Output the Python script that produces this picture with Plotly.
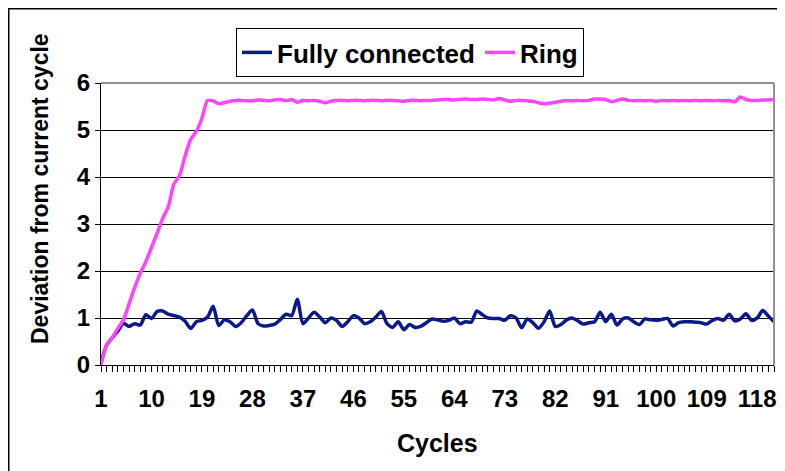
import plotly.graph_objects as go

cycles = list(range(1, 122))

fully_connected = [
    0.05, 0.42, 0.58, 0.72, 0.89, 0.82, 0.88, 0.85, 1.07, 0.99,
    1.14, 1.15, 1.08, 1.05, 1.02, 0.93, 0.78, 0.92, 0.95, 1.02,
    1.25, 0.84, 0.96, 0.92, 0.82, 0.90, 1.05, 1.17, 0.88, 0.83,
    0.84, 0.87, 0.97, 1.08, 1.05, 1.40, 0.88, 1.00, 1.12, 1.02,
    0.90, 1.00, 0.95, 0.82, 0.92, 1.05, 1.00, 0.88, 0.92, 1.02,
    1.14, 0.88, 0.80, 0.92, 0.75, 0.86, 0.80, 0.82, 0.90, 0.98,
    0.96, 0.93, 0.95, 1.00, 0.88, 0.92, 0.91, 1.15, 1.07, 1.00,
    0.99, 0.99, 0.95, 1.05, 1.00, 0.79, 0.98, 0.90, 0.78, 0.92,
    1.15, 0.82, 0.86, 0.96, 1.00, 0.94, 0.87, 0.90, 0.92, 1.12,
    0.92, 1.08, 0.85, 0.98, 1.00, 0.92, 0.86, 0.98, 0.96, 0.95,
    0.97, 0.99, 0.83, 0.90, 0.92, 0.92, 0.91, 0.90, 0.87, 0.95,
    0.99, 0.95, 1.08, 0.94, 0.98, 1.09, 0.95, 1.00, 1.16, 1.04,
    0.92,
]

ring = [
    0.00, 0.42, 0.58, 0.78, 0.96, 1.30, 1.65, 1.95, 2.20, 2.50,
    2.80, 3.12, 3.37, 3.85, 4.03, 4.45, 4.80, 4.97, 5.25, 5.63,
    5.62, 5.56, 5.58, 5.61, 5.63, 5.63, 5.62, 5.62, 5.64, 5.63,
    5.62, 5.64, 5.65, 5.62, 5.65, 5.59, 5.63, 5.62, 5.63, 5.61,
    5.58, 5.61, 5.63, 5.63, 5.62, 5.63, 5.63, 5.62, 5.63, 5.63,
    5.62, 5.63, 5.63, 5.62, 5.61, 5.63, 5.63, 5.62, 5.63, 5.63,
    5.64, 5.65, 5.65, 5.64, 5.65, 5.66, 5.65, 5.65, 5.66, 5.65,
    5.64, 5.67, 5.64, 5.61, 5.63, 5.63, 5.62, 5.61, 5.58, 5.56,
    5.57, 5.59, 5.61, 5.63, 5.62, 5.63, 5.62, 5.63, 5.66, 5.66,
    5.65, 5.60, 5.63, 5.66, 5.63, 5.62, 5.63, 5.62, 5.63, 5.61,
    5.63, 5.62, 5.63, 5.62, 5.63, 5.62, 5.63, 5.62, 5.63, 5.62,
    5.63, 5.62, 5.63, 5.60, 5.70, 5.65, 5.63, 5.63, 5.64, 5.64,
    5.65,
]

x_tick_labels = [1, 10, 19, 28, 37, 46, 55, 64, 73, 82, 91, 100, 109, 118]
y_ticks = [0, 1, 2, 3, 4, 5, 6]

FONT = "Liberation Sans, Arial, sans-serif"

fig = go.Figure()
fig.add_trace(go.Scatter(
    x=cycles, y=fully_connected, mode="lines", name="Fully connected",
    line=dict(color="#0a1a8c", width=3.5, shape="spline", smoothing=0.7),
))
fig.add_trace(go.Scatter(
    x=cycles, y=ring, mode="lines", name="Ring",
    line=dict(color="#ff44ff", width=3.5, shape="spline", smoothing=0.7),
))

# Figure is 777x463; the page body adds an 8px offset, so it fills the 785x471 window.
fig.update_layout(
    width=777, height=463,
    margin=dict(l=93, r=11, t=75, b=106, autoexpand=False),
    paper_bgcolor="white", plot_bgcolor="white",
    font=dict(family=FONT, size=24, color="black", weight="bold"),
    showlegend=True,
    legend=dict(
        orientation="h", x=0.2006, y=1.195, xanchor="left", yanchor="top",
        bgcolor="white", bordercolor="black", borderwidth=1,
        font=dict(family=FONT, size=26, color="black", weight="bold"),
        itemwidth=30, tracegroupgap=0,
    ),
    xaxis=dict(
        range=[1, 121], tickmode="array", tickvals=x_tick_labels,
        ticktext=[str(v) for v in x_tick_labels],
        showgrid=False, zeroline=False,
        showline=True, linecolor="black", linewidth=1,
        ticks="outside", ticklen=6, tickcolor="black", tickwidth=1,
        ticklabelstandoff=6,
        minor=dict(ticks="outside", dtick=1, tick0=1, ticklen=6,
                   tickcolor="black", tickwidth=1, showgrid=False),
        tickfont=dict(family=FONT, size=24, color="black", weight="bold"),
    ),
    yaxis=dict(
        range=[0, 6], tickmode="array", tickvals=y_ticks,
        showgrid=True, gridcolor="black", gridwidth=1,
        zeroline=False, showline=True, linecolor="black", linewidth=1,
        ticks="outside", ticklen=5, tickcolor="black", tickwidth=1,
        tickfont=dict(family=FONT, size=24, color="black", weight="bold"),
    ),
    annotations=[
        dict(text="Cycles", xref="paper", yref="paper", x=0.5, y=(365 - 443) / 282,
             xanchor="center", yanchor="middle", showarrow=False,
             font=dict(family=FONT, size=25, color="black", weight="bold")),
        dict(text="Deviation from current cycle", xref="paper", yref="paper",
             x=(40 - 101) / 673, y=(365 - 189) / 282, textangle=-90,
             xanchor="center", yanchor="middle", showarrow=False,
             font=dict(family=FONT, size=23, color="black", weight="bold")),
    ],
    shapes=[
        dict(type="line", xref="paper", yref="paper", x0=0, x1=1, y0=1, y1=1,
             line=dict(color="#909090", width=2), layer="above"),
        dict(type="line", xref="paper", yref="paper", x0=1, x1=1, y0=0, y1=1,
             line=dict(color="#909090", width=2), layer="above"),
        dict(type="rect", xref="paper", yref="paper",
             x0=(0.5 - 93) / 673, x1=1.3, y0=-0.5, y1=(357 - 0.5) / 282,
             line=dict(color="black", width=2), fillcolor="rgba(0,0,0,0)", layer="below"),
    ],
)

fig.write_html("out.html")
